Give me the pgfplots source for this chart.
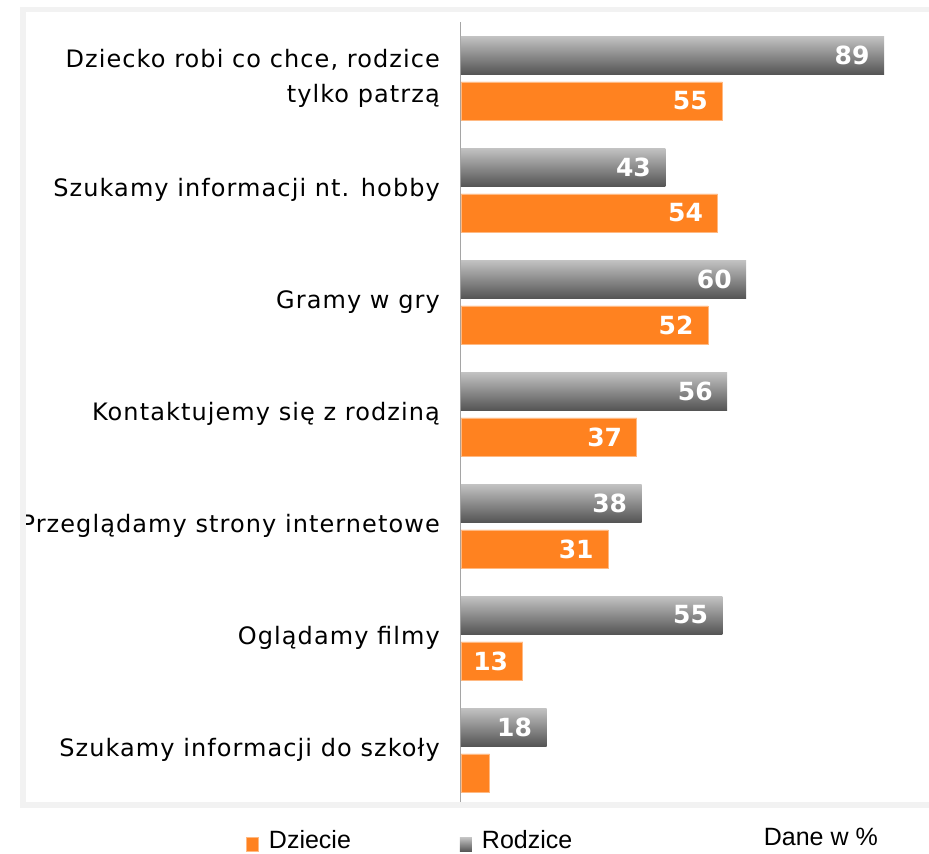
\documentclass[border=0pt]{standalone}
\usepackage{fontspec}
\setmainfont{DejaVu Sans}
\newfontfamily\catfont{DejaVu Sans}[LetterSpace=4.5]
\newfontfamily\arialfont{Liberation Sans}
\usepackage{pgfplots}
\usepackage{pgfplotstable}
\pgfplotsset{compat=1.18}
\definecolor{orangebar}{RGB}{255,130,32}
\definecolor{orangeedge}{RGB}{255,185,130}
\definecolor{graytop}{RGB}{195,195,195}
\definecolor{graybot}{RGB}{85,85,85}
\definecolor{framegray}{RGB}{242,242,242}
\definecolor{axisgray}{RGB}{165,165,165}

\pgfplotstableread{
idx dz dzlab
0 55 55
1 54 54
2 52 52
3 37 37
4 31 31
5 13 13
6 6 {}
}\dztable

\pgfplotsset{
  sqlegend/.style={legend image code/.code={
     \path[##1] (0pt,-11pt) rectangle (12pt,3pt);
     \path (22pt,0pt);}},
  vallab/.style={nodes near coords, point meta=explicit symbolic,
     every node near coord/.append style={anchor=east, xshift=-11pt, text=white,
       font=\fontsize{25}{25}\selectfont\bfseries}},
  graybar/.style={draw=none, top color=graytop, bottom color=graybot,
     bar shift=-0.205, vallab, sqlegend},
}

\begin{document}
\begin{tikzpicture}[x=1pt,y=1pt]
\path[use as bounding box] (0,0) rectangle (929,854);
\begin{axis}[
  at={(461pt,48pt)}, anchor=south west,
  scale only axis, width=468pt, height=784pt,
  xbar, xmin=0, xmax=98.46, ymin=-0.5, ymax=6.5, y dir=reverse,
  bar width=0.339,
  axis lines*=left,
  x axis line style={draw=none},
  y axis line style={draw=axisgray, line width=1pt},
  xtick=\empty,
  ytick={0,...,6},
  major tick length=0pt,
  yticklabels={{Dziecko robi co chce, rodzice\\tylko patrzą},
    {Szukamy informacji nt. hobby},
    {Gramy w gry},
    {Kontaktujemy się z rodziną},
    {Przeglądamy strony internetowe},
    {Oglądamy filmy},
    {Szukamy informacji do szkoły}},
  yticklabel style={align=right, inner sep=0pt, xshift=-21pt,
    font=\catfont\fontsize{24}{35}\selectfont},
  clip=false,
  legend style={draw=none, fill=none, legend columns=2,
    at={(axis description cs:0,0)}, anchor=south west,
    xshift=-215pt, yshift=-46pt, inner sep=0pt,
    nodes={inner sep=0pt},
    font=\arialfont\fontsize{25}{25}\selectfont,
    /tikz/every even column/.append style={column sep=109pt}},
  legend cell align=left,
]
\addplot[fill=orangebar, draw=orangeedge, line width=0.8pt, bar shift=0.205,
  vallab, sqlegend]
  table[x=dz, y=idx, meta=dzlab] {\dztable};
\addplot[graybar] coordinates {(89,0) [89]};
\addplot[graybar, forget plot] coordinates {(43,1) [43]};
\addplot[graybar, forget plot] coordinates {(60,2) [60]};
\addplot[graybar, forget plot] coordinates {(56,3) [56]};
\addplot[graybar, forget plot] coordinates {(38,4) [38]};
\addplot[graybar, forget plot] coordinates {(55,5) [55]};
\addplot[graybar, forget plot] coordinates {(18,6) [18]};
\legend{Dziecie, Rodzice}
\end{axis}
\draw[framegray, line width=5.5pt] (23,49) rectangle (960,844.5);
\node[anchor=base east, inner sep=0pt, font=\arialfont\fontsize{25}{25}\selectfont] at (878,9) {Dane w \%};
\end{tikzpicture}
\end{document}
